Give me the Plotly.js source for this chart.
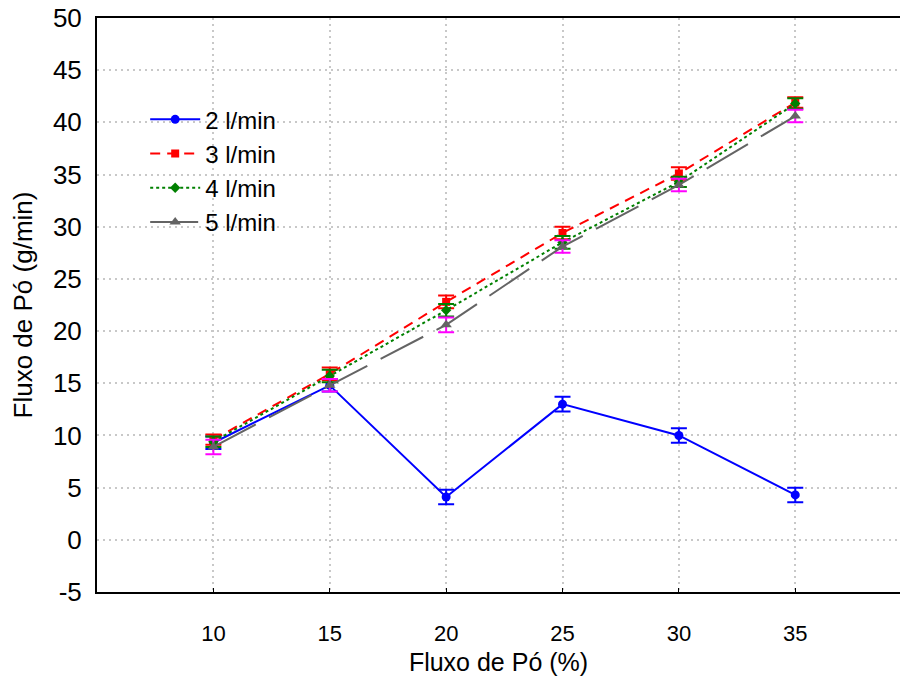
<!DOCTYPE html>
<html>
<head>
<meta charset="utf-8">
<script src="https://cdn.plot.ly/plotly-3.0.1.min.js"></script>
<style>html,body{margin:0;padding:0;background:#fff;overflow:hidden}#chart{width:900px;height:677px}</style>
</head>
<body>
<div id="chart"></div>
<script>
const fluxoPct = [10, 15, 20, 25, 30, 35];
const seriesNames = ['2 l/min', '3 l/min', '4 l/min', '5 l/min'];
const flow2 = [9.3, 14.8, 4.1, 13.0, 10.0, 4.3];
const flow3 = [9.6, 15.9, 22.8, 29.4, 35.1, 41.9];
const flow4 = [9.4, 15.7, 22.0, 28.5, 34.3, 41.8];
const flow5 = [8.9, 14.8, 20.6, 28.1, 34.0, 40.6];
const err2 = [0.6, 0.6, 0.7, 0.7, 0.7, 0.7];
const err3 = [0.5, 0.6, 0.6, 0.6, 0.6, 0.5];
const err4 = [0.5, 0.6, 0.6, 0.6, 0.5, 0.5];
const err5 = [0.7, 0.6, 0.7, 0.6, 0.6, 0.6];
const yTicks = [-5, 0, 5, 10, 15, 20, 25, 30, 35, 40, 45, 50];

const mk = (y, err, name, lineColor, dash, symbol, msize, errColor) => ({
  x: fluxoPct, y: y, name: name, type: 'scatter', mode: 'lines+markers',
  line: {color: lineColor, width: 2, dash: dash},
  marker: {color: lineColor, symbol: symbol, size: msize},
  error_y: {type: 'data', array: err, visible: true, color: errColor, thickness: 2, width: 8}
});

const data = [
  mk(flow2, err2, seriesNames[0], '#0000ff', 'solid', 'circle', 9, '#0000ff'),
  mk(flow3, err3, seriesNames[1], '#ff0000', '10px,7px', 'square', 8, '#ff0000'),
  mk(flow4, err4, seriesNames[2], '#008000', '3px,3px', 'diamond', 8, '#008000'),
  mk(flow5, err5, seriesNames[3], '#646464', '48px,15px', 'triangle-up', 10, '#ff00ff')
];

const font = 'Liberation Sans, Arial, sans-serif';
const layout = {
  width: 900, height: 677,
  margin: {l: 97, r: 0, t: 18, b: 85},
  paper_bgcolor: '#fff', plot_bgcolor: '#fff',
  showlegend: true,
  legend: {x: 0.06, y: 0.862, xanchor: 'left', yanchor: 'top', bgcolor: 'rgba(0,0,0,0)',
    font: {family: font, size: 24, color: '#000'}, itemwidth: 50},
  xaxis: {
    range: [5, 39.5], tickvals: fluxoPct, ticktext: fluxoPct.map(String),
    showline: true, linecolor: '#000', linewidth: 2, mirror: true,
    ticks: 'inside', ticklen: 4, tickcolor: '#000', tickwidth: 1,
    showgrid: true, gridcolor: '#c8c8c8', gridwidth: 2, griddash: '2px,4px',
    zeroline: false, ticklabelstandoff: 21,
    tickfont: {family: font, size: 22, color: '#000'},
    title: {text: 'Fluxo de Pó (%)', standoff: 8, font: {family: font, size: 25, color: '#000'}}
  },
  yaxis: {
    range: [-5, 50], tickvals: yTicks, ticktext: yTicks.map(String),
    showline: true, linecolor: '#000', linewidth: 2,
    ticks: '', showgrid: true, gridcolor: '#c8c8c8', gridwidth: 2, griddash: '2px,4px',
    zeroline: false, ticklabelstandoff: 8,
    tickfont: {family: font, size: 26, color: '#000'},
    title: {text: 'Fluxo de Pó (g/min)', standoff: 13, font: {family: font, size: 26, color: '#000'}}
  }
};

Plotly.newPlot('chart', data, layout, {displayModeBar: false, staticPlot: true});
</script>
</body>
</html>
